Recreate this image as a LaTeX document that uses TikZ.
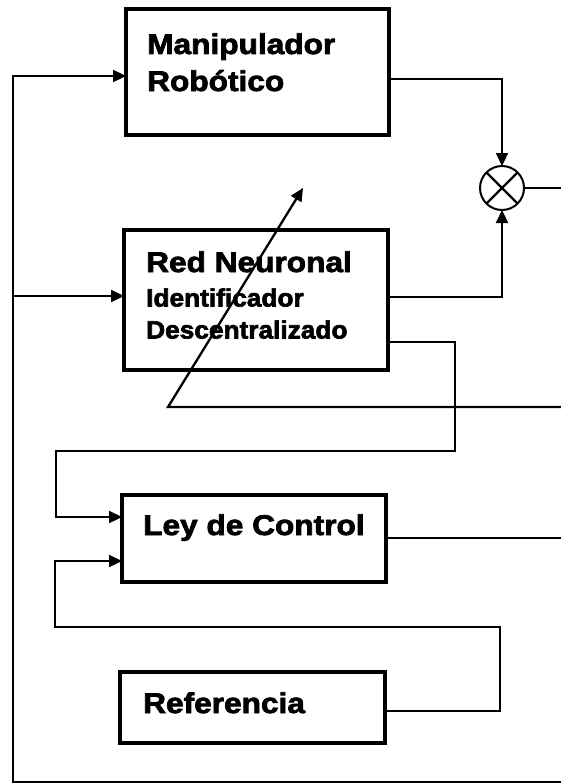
\documentclass[tikz,border=0pt]{standalone}
\usepackage{fontspec}
\newfontfamily\bigf{Liberation Sans}[FakeStretch=1.11, BoldFeatures={FakeBold=2.6}]
\newfontfamily\smallf{Liberation Sans}[FakeStretch=1.05, BoldFeatures={FakeBold=2.6}]
\usetikzlibrary{arrows.meta}
\begin{document}
\begin{tikzpicture}[x=1pt,y=-1pt,
  blockbox/.style={draw,line width=3.2pt,inner sep=0pt,outer sep=0pt},
  bigtext/.style={anchor=base west,inner sep=0pt,font=\bigf\bfseries\fontsize{28.5}{30}\selectfont},
  smalltext/.style={anchor=base west,inner sep=0pt,font=\smallf\bfseries\fontsize{25}{27}\selectfont},
  conn/.style={line width=2.3pt},
  arr/.style={conn,-{Triangle[length=13pt,width=12pt]}},
  sumnode/.style={draw,circle,line width=2pt,minimum size=44pt,inner sep=0pt,outer sep=0pt}]
\useasboundingbox (0,0) rectangle (561,784);
% blocks
\node[blockbox,minimum width=263pt,minimum height=126pt] (man) at (257.5,72) {};
\node[blockbox,minimum width=264pt,minimum height=140pt] (red) at (256,300) {};
\node[blockbox,minimum width=264pt,minimum height=87pt] (ley) at (254,538.5) {};
\node[blockbox,minimum width=265pt,minimum height=71pt] (ref) at (252.5,707.5) {};
\node[sumnode] (sum) at (502,188) {};
\draw[conn] (sum.north west) -- (sum.south east) (sum.north east) -- (sum.south west);
% texts
\node[bigtext] (t1) at (147,54) {Manipulador};
\node[bigtext] (t2) at (147,91) {Robótico};
\node[bigtext] (t3) at (146,272) {Red Neuronal};
\node[smalltext] (t4) at (146,306.5) {Identificador};
\node[smalltext] (t5) at (146,338.5) {Descentralizado};
\node[bigtext] (t6) at (143,535) {Ley de Control};
\node[bigtext] (t7) at (143,713) {Referencia};
% coordinates
\coordinate (bR) at (561,782);
\coordinate (bL) at (13,782);
\coordinate (tL) at (13,76);
\coordinate (mL) at (13,296);
\coordinate (sumR) at (561,188);
\coordinate (dR) at (561,407);
\coordinate (dS) at (168,407);
\coordinate (dT) at (303,188);
\coordinate (leyR) at (561,538);
\coordinate (r1) at (455,342);
\coordinate (r2) at (455,451);
\coordinate (r3) at (56,451);
\coordinate (r4) at (56,517);
\coordinate (q1) at (500,711);
\coordinate (q2) at (500,627);
\coordinate (q3) at (55,627);
\coordinate (q4) at (55,561);
% connectors
\draw[arr] (bR) -- (bL) -- (tL) -- (tL -| man.west);
\draw[arr] (mL) -- (mL -| red.west);
\draw[arr] (man.east |- 0,79) -| (sum.north);
\draw[arr] (red.east |- 0,297) -| (sum.south);
\draw[conn] (sum.east) -- (sumR);
\draw[arr] (dR) -- (dS) -- (dT);
\draw[arr] (red.east |- r1) -- (r1) -- (r2) -- (r3) -- (r4) -- (r4 -| ley.west);
\draw[conn] (ley.east |- leyR) -- (leyR);
\draw[arr] (ref.east |- q1) -- (q1) -- (q2) -- (q3) -- (q4) -- (q4 -| ley.west);
\end{tikzpicture}
\end{document}
